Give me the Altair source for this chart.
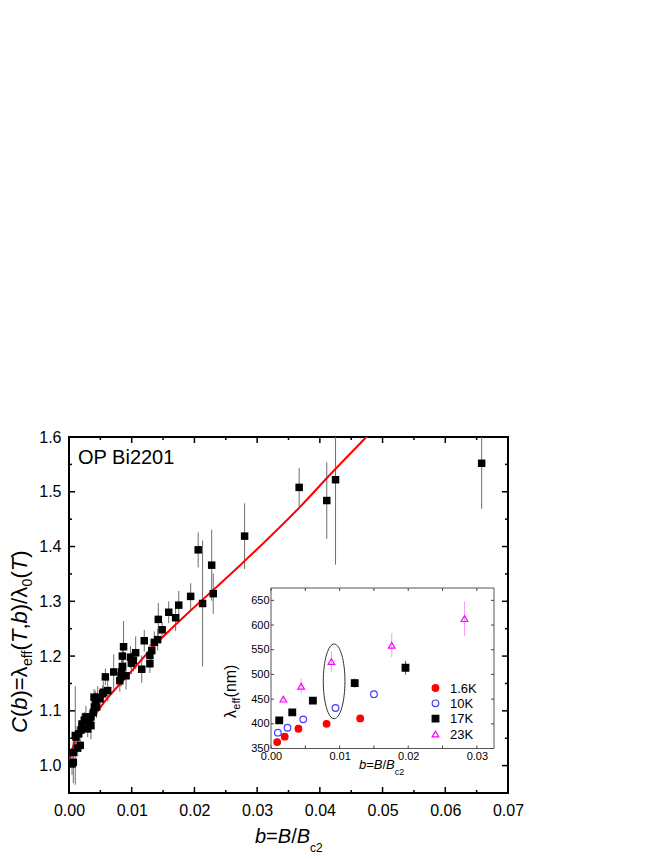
import altair as alt
import pandas as pd

FONT = "Liberation Sans"

# ---------------- main data: C(b) ----------------
main_b = [0.00048, 0.00069, 0.00069, 0.0010, 0.00112, 0.00138, 0.00155, 0.0018, 0.00191, 0.00207,
          0.00244, 0.0027, 0.00298, 0.00324, 0.0035, 0.0035, 0.00388, 0.00399, 0.00404, 0.0042,
          0.0044, 0.00457, 0.00494, 0.00537, 0.00547, 0.0058, 0.00617, 0.00713, 0.0081, 0.0083,
          0.0084, 0.0085, 0.0085, 0.0087, 0.0091, 0.0098, 0.00994, 0.01026, 0.01063, 0.0116,
          0.0120, 0.0129, 0.0129, 0.0132, 0.0136, 0.01414, 0.01424, 0.01485, 0.0159, 0.0170,
          0.0175, 0.0194, 0.0206, 0.0213, 0.02275, 0.0230, 0.0280, 0.0367, 0.0411, 0.0425, 0.0658]
main_c = [1.003, 1.006, 1.024, 1.055, 1.052, 1.032, 1.058, 1.037, 1.065, 1.076,
          1.083, 1.089, 1.067, 1.080, 1.073, 1.089, 1.097, 1.125, 1.107, 1.117,
          1.107, 1.125, 1.122, 1.131, 1.134, 1.162, 1.137, 1.171, 1.155, 1.164,
          1.171, 1.181, 1.200, 1.217, 1.164, 1.198, 1.187, 1.192, 1.206, 1.176,
          1.228, 1.201, 1.186, 1.210, 1.225, 1.230, 1.267, 1.248, 1.280, 1.270,
          1.293, 1.309, 1.394, 1.296, 1.366, 1.314, 1.419, 1.508, 1.484, 1.522, 1.552]
main_err = [0.02, 0.038, 0.02, 0.09, 0.02, 0.015, 0.02, 0.012, 0.015, 0.02,
            0.015, 0.02, 0.015, 0.02, 0.025, 0.015, 0.02, 0.015, 0.02, 0.02,
            0.02, 0.02, 0.015, 0.015, 0.02, 0.015, 0.02, 0.032, 0.02, 0.02,
            0.025, 0.02, 0.02, 0.047, 0.025, 0.02, 0.02, 0.02, 0.03, 0.025,
            0.02, 0.02, 0.017, 0.02, 0.02, 0.02, 0.03, 0.014, 0.02, 0.024,
            0.026, 0.024, 0.032, 0.115, 0.065, 0.037, 0.06, 0.035, 0.07, 0.155, 0.083]

fit_b = [0, 0.0003, 0.0006, 0.0011, 0.0022, 0.0038, 0.0059, 0.0091, 0.0135, 0.0188,
         0.0241, 0.0273, 0.0368, 0.0421, 0.0475]
fit_c = [1.0, 1.022, 1.033, 1.050, 1.071, 1.088, 1.120, 1.161, 1.218, 1.277,
         1.332, 1.366, 1.472, 1.537, 1.601]

main_x_major = [0, 0.01, 0.02, 0.03, 0.04, 0.05, 0.06, 0.07]
main_x_minor = [0.005, 0.015, 0.025, 0.035, 0.045, 0.055, 0.065]
main_y_major = [1.0, 1.1, 1.2, 1.3, 1.4, 1.5, 1.6]
main_y_minor = [1.05, 1.15, 1.25, 1.35, 1.45, 1.55]

# ---------------- inset data: lambda_eff ----------------
inset_T = ["1.6K", "10K", "17K", "23K"]
b_16 = [0.0009, 0.0020, 0.0040, 0.0081, 0.0130]
l_16 = [363, 374, 390, 400, 411]
b_10 = [0.0010, 0.0024, 0.0047, 0.0094, 0.0150]
l_10 = [382, 392, 409, 432, 460]
b_17 = [0.0012, 0.0031, 0.0061, 0.0122, 0.0196]
l_17 = [407, 423, 447, 482.5, 513.5]
e_17 = [2, 3, 4, 9, 14]
b_23 = [0.0018, 0.0044, 0.0088, 0.0176, 0.0282]
l_23 = [450, 476, 526, 559, 613]
e_23 = [5, 15, 21, 24, 35]

inset_x_ticks = [0, 0.005, 0.01, 0.015, 0.02, 0.025, 0.03]
inset_x_labels = [0, 0.01, 0.02, 0.03]
inset_y_ticks = [350, 400, 450, 500, 550, 600, 650]

# ---------------- geometry ----------------
W, H = 439, 356
IX0, IX1 = 202, 425        # inset plot in main-plot pixels
IY0, IY1 = 151, 311.5
LEG_X, LEG_Y0, LEG_Y1 = 366.5, 251, 297   # inset legend rows

main_df = pd.DataFrame({"b": main_b, "C": main_c, "err": main_err})
main_df["lo"] = main_df["C"] - main_df["err"]
main_df["hi"] = main_df["C"] + main_df["err"]
fit_df = pd.DataFrame({"b": fit_b, "C": fit_c})

rows = []
for T, bs, ls, es in [("1.6K", b_16, l_16, [0] * 5), ("10K", b_10, l_10, [0] * 5),
                      ("17K", b_17, l_17, e_17), ("23K", b_23, l_23, e_23)]:
    for b, l, e in zip(bs, ls, es):
        rows.append({"T": T, "b": b, "lam": l, "lo": l - e, "hi": l + e, "err": e})
inset_df = pd.DataFrame(rows)

xs = alt.Scale(domain=[0, 0.07], nice=False, zero=False)
ys = alt.Scale(domain=[0.95, 1.6], nice=False, zero=False)
xax = alt.Axis(orient="bottom", values=main_x_major, format=".2f", labelFontSize=16, labelFont=FONT,
               labelColor="black", ticks=False, tickSize=0, domain=False, grid=False,
               labelPadding=9, labelFlush=False)
yax = alt.Axis(orient="left", values=main_y_major, format=".1f", labelFontSize=16, labelFont=FONT,
               labelColor="black", ticks=False, tickSize=0, domain=False, grid=False,
               labelPadding=8)

ixs = alt.Scale(domain=[0, 0.0325], range=[IX0, IX1], nice=False, zero=False)
iys = alt.Scale(domain=[350, 675], range=[IY1, IY0], nice=False, zero=False)
ixax = alt.Axis(orient="bottom", offset=IY1 - H, values=inset_x_labels, format=".2f", labelFontSize=11,
                labelFont=FONT, labelColor="black", ticks=False, tickSize=0, domain=False, grid=False,
                labelPadding=2, labelFlush=False)
iyax = alt.Axis(orient="left", offset=-IX0, values=inset_y_ticks, format="d", labelFontSize=11,
                labelFont=FONT, labelColor="black", ticks=False, tickSize=0, domain=False, grid=False,
                labelPadding=2)

dummy = pd.DataFrame({"d": [0]})

AW = {"C": 722, "(": 333, ")": 333, "b": 556, "=": 584, "λ": 520, "T": 611, ",": 278, "/": 278,
      "e": 556, "f": 278, "0": 556, "B": 667, "c": 500, "2": 556, " ": 278, "\u00a0": 278,
      "n": 556, "m": 833}


def tw(s, size):
    return sum(AW.get(ch, 556) for ch in s) / 1000.0 * size


def htitle(pieces, x0, base, sub_base, size, sub_size):
    out = []
    x = x0
    for txt, italic, sub in pieces:
        fs = sub_size if sub else size
        out.append(alt.Chart(dummy).mark_text(
            text=txt, font=FONT, fontSize=fs, fontStyle="italic" if italic else "normal",
            align="left", baseline="alphabetic", color="black"
        ).encode(x=alt.value(x), y=alt.value(sub_base if sub else base)))
        x += tw(txt, fs)
    return out


def vtitle(pieces, y0, base, sub_base, size, sub_size):
    out = []
    y = y0
    for txt, italic, sub in pieces:
        fs = sub_size if sub else size
        out.append(alt.Chart(dummy).mark_text(
            text=txt, font=FONT, fontSize=fs, fontStyle="italic" if italic else "normal",
            align="left", baseline="alphabetic", color="black", angle=270
        ).encode(x=alt.value(sub_base if sub else base), y=alt.value(y)))
        y -= tw(txt, fs)
    return out


def xtick_layer(vals, scale, axis, y0, y1, color, sw):
    return alt.Chart(pd.DataFrame({"b": vals})).mark_rule(color=color, strokeWidth=sw).encode(
        x=alt.X("b:Q", scale=scale, axis=axis, title=None), y=alt.value(y0), y2=alt.value(y1))


def ytick_layer(vals, field, scale, axis, x0, x1, color, sw):
    return alt.Chart(pd.DataFrame({field: vals})).mark_rule(color=color, strokeWidth=sw).encode(
        y=alt.Y(f"{field}:Q", scale=scale, axis=axis, title=None), x=alt.value(x0), x2=alt.value(x1))


# ---------------- main layers ----------------
errbars = alt.Chart(main_df).mark_rule(color="#6e6e6e", strokeWidth=1, clip=True).encode(
    x=alt.X("b:Q", scale=xs, axis=xax, title=None),
    y=alt.Y("lo:Q", scale=ys, axis=yax, title=None),
    y2="hi:Q")
points = alt.Chart(main_df).mark_square(size=56, color="black", opacity=1).encode(
    x=alt.X("b:Q", scale=xs, axis=xax, title=None),
    y=alt.Y("C:Q", scale=ys, axis=yax, title=None))
fit = alt.Chart(fit_df).mark_line(color="#ff0000", strokeWidth=2, clip=True, interpolate="monotone").encode(
    x=alt.X("b:Q", scale=xs, axis=xax, title=None),
    y=alt.Y("C:Q", scale=ys, axis=yax, title=None))

main_ticks = [
    xtick_layer(main_x_major, xs, xax, H, H - 6, "black", 1.5),
    xtick_layer(main_x_minor, xs, xax, H, H - 3, "black", 1.5),
    xtick_layer(main_x_major, xs, xax, 0, 6, "black", 1.5),
    xtick_layer(main_x_minor, xs, xax, 0, 3, "black", 1.5),
    ytick_layer(main_y_major, "C", ys, yax, 0, 6, "black", 1.5),
    ytick_layer(main_y_minor, "C", ys, yax, 0, 3, "black", 1.5),
    ytick_layer(main_y_major, "C", ys, yax, W, W - 6, "black", 1.5),
    ytick_layer(main_y_minor, "C", ys, yax, W, W - 3, "black", 1.5),
]

label_op = alt.Chart(dummy).mark_text(text="OP Bi2201", font=FONT, fontSize=20, align="left",
                                      baseline="alphabetic", color="black").encode(
    x=alt.value(9), y=alt.value(27))

x_title = htitle([("b", True, False), ("=", False, False), ("B", True, False), ("/", False, False),
                  ("B", True, False), ("c2", False, True)], 186, 406, 415, 20, 12)
y_title = vtitle([("C", True, False), ("(", False, False), ("b", True, False), (")=λ", False, False),
                  ("eff", False, True), ("(", False, False), ("T", True, False), (",", False, False),
                  ("b", True, False), (")/λ", False, False), ("0", False, True), ("(", False, False),
                  ("T", True, False), (")", False, False)], 296, -42, -37.5, 22, 14)

main = alt.layer(errbars, fit, points, *main_ticks, label_op, *x_title, *y_title)

# ---------------- inset layers ----------------
fill_scale = alt.Scale(domain=inset_T, range=["#ff0000", "transparent", "#000000", "transparent"])
stroke_scale = alt.Scale(domain=inset_T, range=["#ff0000", "#3f3fff", "#000000", "#ff00ff"])
shape_scale = alt.Scale(domain=inset_T, range=["circle", "circle", "square", "triangle-up"])

inset_frame = alt.Chart(dummy).mark_rect(fill="transparent", stroke="#555555", strokeWidth=1).encode(
    x=alt.value(IX0), x2=alt.value(IX1), y=alt.value(IY0), y2=alt.value(IY1))

inset_err = alt.Chart(inset_df[inset_df["err"] > 0]).mark_rule(strokeWidth=1).encode(
    x=alt.X("b:Q", scale=ixs, axis=ixax, title=None),
    y=alt.Y("lo:Q", scale=iys, axis=iyax, title=None),
    y2="hi:Q",
    color=alt.Color("T:N", scale=alt.Scale(domain=inset_T, range=["#ff0000", "#3f3fff", "#555555", "#ff99ff"]),
                    legend=None))
inset_pts = alt.Chart(inset_df).mark_point(size=44, strokeWidth=1.2, opacity=1).encode(
    x=alt.X("b:Q", scale=ixs, axis=ixax, title=None),
    y=alt.Y("lam:Q", scale=iys, axis=iyax, title=None),
    fill=alt.Fill("T:N", scale=fill_scale, legend=None),
    stroke=alt.Stroke("T:N", scale=stroke_scale, legend=None),
    shape=alt.Shape("T:N", scale=shape_scale, legend=None))

ELLIPSE = ("M0,-1 C0.16,-1 0.29,-0.552 0.29,0 C0.29,0.552 0.16,1 0,1 "
           "C-0.16,1 -0.29,0.552 -0.29,0 C-0.29,-0.552 -0.16,-1 0,-1 Z")
ellipse = alt.Chart(pd.DataFrame({"b": [0.0092], "lam": [486]})).mark_point(
    shape=ELLIPSE, size=5580, filled=False, stroke="#333333", strokeWidth=1, opacity=1).encode(
    x=alt.X("b:Q", scale=ixs, axis=ixax, title=None),
    y=alt.Y("lam:Q", scale=iys, axis=iyax, title=None))

inset_ticks = [
    alt.Chart(pd.DataFrame({"b": inset_x_ticks})).mark_rule(color="#444444", strokeWidth=1).encode(
        x=alt.X("b:Q", scale=ixs, axis=ixax, title=None), y=alt.value(IY1), y2=alt.value(IY1 - 3)),
    alt.Chart(pd.DataFrame({"b": inset_x_ticks})).mark_rule(color="#444444", strokeWidth=1).encode(
        x=alt.X("b:Q", scale=ixs, axis=ixax, title=None), y=alt.value(IY0), y2=alt.value(IY0 + 3)),
    alt.Chart(pd.DataFrame({"lam": inset_y_ticks})).mark_rule(color="#444444", strokeWidth=1).encode(
        y=alt.Y("lam:Q", scale=iys, axis=iyax, title=None), x=alt.value(IX0), x2=alt.value(IX0 + 3)),
    alt.Chart(pd.DataFrame({"lam": inset_y_ticks})).mark_rule(color="#444444", strokeWidth=1).encode(
        y=alt.Y("lam:Q", scale=iys, axis=iyax, title=None), x=alt.value(IX1), x2=alt.value(IX1 - 3)),
]

ix_title = htitle([("b", True, False), ("=", False, False), ("B", True, False), ("/", False, False),
                   ("B", True, False), ("c2", False, True)], 290, 332, 337.5, 13, 9)
iy_title = vtitle([("λ", False, False), ("eff", False, True), ("\u00a0(nm)", False, False)],
                  281, 167, 170.5, 16, 11)

inset = alt.layer(inset_frame, inset_err, ellipse, inset_pts, *inset_ticks, *ix_title, *iy_title)

# ---------------- inset legend (own point scale for its rows) ----------------
leg_df = pd.DataFrame({"T": inset_T})
leg_y = alt.Y("T:N", scale=alt.Scale(type="point", domain=inset_T, range=[LEG_Y0, LEG_Y1], padding=0),
              axis=None, title=None)
leg_sym = alt.Chart(leg_df).mark_point(size=44, strokeWidth=1.2, opacity=1).encode(
    x=alt.value(LEG_X), y=leg_y,
    fill=alt.Fill("T:N", scale=fill_scale, legend=None),
    stroke=alt.Stroke("T:N", scale=stroke_scale, legend=None),
    shape=alt.Shape("T:N", scale=shape_scale, legend=None))
leg_txt = alt.Chart(leg_df).mark_text(font=FONT, fontSize=13, align="left", baseline="middle",
                                      color="black", dy=0.5).encode(
    x=alt.value(LEG_X + 14.5), y=leg_y, text="T:N")
legend = alt.layer(leg_sym, leg_txt)

chart = alt.layer(main, inset, legend).resolve_scale(
    x="independent", y="independent"
).properties(
    width=W, height=H,
    autosize=alt.AutoSizeParams(type="none"),
    padding={"left": 61, "top": 429, "right": 40, "bottom": 75},
    background="white",
).configure_view(stroke="black", strokeWidth=2).configure_axis(grid=False)

chart.save("out.html", embed_options={"renderer": "svg", "actions": False})
